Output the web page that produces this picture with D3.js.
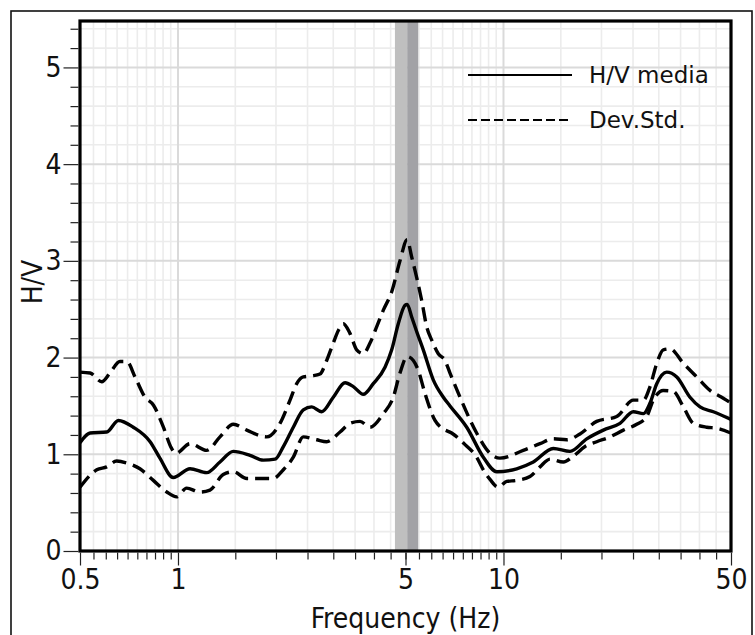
<!DOCTYPE html>
<html>
<head>
<meta charset="utf-8">
<script src="https://cdn.jsdelivr.net/npm/d3@7"></script>
<style>
  html, body { margin: 0; padding: 0; background: #fff; }
  svg { display: block; font-family: "DejaVu Sans", Verdana, sans-serif; }
  .cond { font-family: "DejaVu Sans Condensed", "DejaVu Sans", sans-serif; font-stretch: condensed; }
</style>
</head>
<body>
<svg id="chart" width="755" height="635"></svg>
<script>
// H/V spectral ratio: mean curve and ± standard deviation curves
const freqMean = [0.5, 0.537, 0.604, 0.656, 0.729, 0.821, 0.88, 0.967, 1.089, 1.225, 1.346, 1.479,
  1.664, 1.829, 1.987, 2.107, 2.261, 2.427, 2.575, 2.764, 3.0, 3.26, 3.457, 3.71, 3.981, 4.325,
  4.535, 4.752, 4.983, 5.06, 5.224, 5.41, 5.67, 6.085, 6.535, 6.85, 7.71, 8.67, 9.53, 10.98,
  12.35, 14.22, 16.01, 18.02, 20.27, 22.8, 25.05, 26.9, 28.2, 29.57, 31.73, 34.07, 37.41,
  40.16, 44.12, 50];
const hvMean = [1.12, 1.22, 1.23, 1.35, 1.28, 1.13, 0.96, 0.76, 0.85, 0.81, 0.92, 1.03,
  0.99, 0.94, 0.95, 1.08, 1.28, 1.46, 1.49, 1.44, 1.59, 1.74, 1.70, 1.62, 1.73, 1.90,
  2.08, 2.35, 2.54, 2.55, 2.42, 2.27, 2.08, 1.77, 1.59, 1.50, 1.28, 0.97, 0.82, 0.85,
  0.92, 1.06, 1.03, 1.16, 1.25, 1.32, 1.44, 1.42, 1.53, 1.73, 1.85, 1.80, 1.59,
  1.49, 1.44, 1.36];

const freqUpper = [0.5, 0.537, 0.583, 0.618, 0.663, 0.696, 0.738, 0.792, 0.84, 0.902, 0.956, 0.986,
  1.089, 1.225, 1.346, 1.479, 1.626, 1.873, 2.058, 2.209, 2.316, 2.427, 2.575, 2.731, 2.863,
  3.0, 3.109, 3.22, 3.376, 3.54, 3.71, 3.89, 4.079, 4.274, 4.535, 4.809, 5.06, 5.224, 5.41,
  5.607, 5.808, 6.019, 6.306, 6.614, 6.85, 7.353, 8.27, 9.09, 9.75, 11.5, 12.95, 14.22,
  15.64, 17.18, 19.34, 22.28, 25.05, 26.9, 28.2, 29.57, 30.97, 32.48, 35.7, 39.23, 43.11,
  47.35, 50];
const hvUpper = [1.85, 1.84, 1.75, 1.84, 1.96, 1.96, 1.80, 1.59, 1.51, 1.28, 1.06, 1.01,
  1.11, 1.04, 1.18, 1.31, 1.25, 1.18, 1.32, 1.56, 1.73, 1.80, 1.81, 1.83, 1.97,
  2.15, 2.28, 2.35, 2.25, 2.08, 2.04, 2.15, 2.32, 2.49, 2.68, 3.0, 3.22, 3.04, 2.83,
  2.59, 2.32, 2.18, 2.04, 1.97, 1.84, 1.59, 1.22, 1.01, 0.96, 1.04, 1.11, 1.16,
  1.15, 1.21, 1.34, 1.39, 1.56, 1.56, 1.70, 1.94, 2.08, 2.09, 1.94, 1.80, 1.66,
  1.58, 1.53];

const freqLower = [0.5, 0.563, 0.604, 0.648, 0.696, 0.764, 0.84, 0.924, 0.991, 1.063, 1.169, 1.254,
  1.377, 1.479, 1.626, 1.963, 2.107, 2.261, 2.427, 2.668, 2.863, 3.147, 3.376, 3.625, 3.89,
  4.274, 4.586, 4.809, 5.06, 5.284, 5.47, 5.739, 6.16, 6.47, 6.93, 7.62, 8.27, 8.67, 9.09,
  9.64, 10.23, 10.98, 12.06, 12.95, 13.9, 15.27, 16.39, 17.81, 19.34, 21.25, 23.35, 25.66,
  27.54, 28.86, 30.97, 33.23, 35.7, 38.3, 42.11, 45.2, 50];
const hvLower = [0.66, 0.84, 0.87, 0.93, 0.91, 0.85, 0.73, 0.61, 0.56, 0.65, 0.61, 0.63,
  0.79, 0.82, 0.75, 0.75, 0.84, 0.97, 1.18, 1.15, 1.13, 1.23, 1.32, 1.34, 1.28,
  1.42, 1.59, 1.84, 2.01, 1.97, 1.87, 1.63, 1.35, 1.27, 1.22, 1.10, 0.97, 0.84, 0.74,
  0.66, 0.72, 0.73, 0.77, 0.87, 0.95, 0.92, 0.98, 1.08, 1.13, 1.18, 1.25, 1.31,
  1.39, 1.56, 1.66, 1.65, 1.49, 1.32, 1.28, 1.27, 1.22];

// peak frequency and its ± uncertainty band
const peakFreq = 5.06;
const bandLow = 4.64;
const bandHigh = 5.47;

const xTickLabels = [0.5, 1, 5, 10, 50];
const yTickLabels = [0, 1, 2, 3, 4, 5];
const legendLabels = ["H/V media", "Dev.Std."];
const xTitle = "Frequency (Hz)";
const yTitle = "H/V";

const svg = d3.select("#chart");
const plotLeft = 80, plotRight = 731, plotTop = 21, plotBottom = 551;

const x = d3.scaleLog().domain([0.5, 50]).range([plotLeft, plotRight]);
const y = d3.scaleLinear().domain([0, 5.48]).range([plotBottom, plotTop]);

// outer frame
svg.append("rect")
  .attr("x", 11).attr("y", 11).attr("width", 741).attr("height", 640)
  .attr("fill", "none").attr("stroke", "#111").attr("stroke-width", 1.6);

// minor positions on the log axis
const minorX = [];
for (let v = 0.55; v < 0.999; v += 0.05) minorX.push(+v.toFixed(2));
for (let v = 1.5; v < 9.99; v += 0.5) minorX.push(+v.toFixed(1));
for (let v = 15; v < 49.9; v += 5) minorX.push(v);
const majorX = [1, 10];
const minorY = d3.range(0.2, 5.41, 0.2).map(v => +v.toFixed(1)).filter(v => Math.abs(v - Math.round(v)) > 1e-6);

const grid = svg.append("g");
grid.selectAll(".gx").data(minorX).join("line")
  .attr("x1", d => x(d)).attr("x2", d => x(d)).attr("y1", plotTop).attr("y2", plotBottom)
  .attr("stroke", "#ececec").attr("stroke-width", 1.6);
grid.selectAll(".gy").data(minorY).join("line")
  .attr("x1", plotLeft).attr("x2", plotRight).attr("y1", d => y(d)).attr("y2", d => y(d))
  .attr("stroke", "#ececec").attr("stroke-width", 1.6);
grid.selectAll(".gxM").data(majorX).join("line")
  .attr("x1", d => x(d)).attr("x2", d => x(d)).attr("y1", plotTop).attr("y2", plotBottom)
  .attr("stroke", "#dadada").attr("stroke-width", 2);
grid.selectAll(".gyM").data(yTickLabels.slice(1)).join("line")
  .attr("x1", plotLeft).attr("x2", plotRight).attr("y1", d => y(d)).attr("y2", d => y(d))
  .attr("stroke", "#dadada").attr("stroke-width", 2);

// uncertainty band around the peak
svg.append("rect")
  .attr("x", x(bandLow)).attr("y", plotTop)
  .attr("width", x(peakFreq) - x(bandLow)).attr("height", plotBottom - plotTop)
  .attr("fill", "#bfbfbf");
svg.append("rect")
  .attr("x", x(peakFreq)).attr("y", plotTop)
  .attr("width", x(bandHigh) - x(peakFreq)).attr("height", plotBottom - plotTop)
  .attr("fill", "#a2a2a6");

// curves
svg.append("clipPath").attr("id", "plotClip")
  .append("rect").attr("x", plotLeft).attr("y", plotTop)
  .attr("width", plotRight - plotLeft).attr("height", plotBottom - plotTop);

const line = d3.line().x(d => x(d[0])).y(d => y(d[1])).curve(d3.curveMonotoneX);
const curves = svg.append("g").attr("clip-path", "url(#plotClip)");
const series = [
  { f: freqUpper, v: hvUpper, dash: "14,7" },
  { f: freqLower, v: hvLower, dash: "14,7" },
  { f: freqMean, v: hvMean, dash: null }
];
series.forEach(s => {
  curves.append("path")
    .datum(d3.zip(s.f, s.v))
    .attr("d", line)
    .attr("fill", "none")
    .attr("stroke", "#000")
    .attr("stroke-width", 3.4)
    .attr("stroke-linejoin", "round")
    .attr("stroke-dasharray", s.dash);
});

// plot border
svg.append("rect")
  .attr("x", plotLeft).attr("y", plotTop)
  .attr("width", plotRight - plotLeft).attr("height", plotBottom - plotTop)
  .attr("fill", "none").attr("stroke", "#000").attr("stroke-width", 3.2);

// x axis ticks
const xAxis = svg.append("g").attr("transform", `translate(0,${plotBottom + 1.5})`);
xAxis.call(d3.axisBottom(x).tickValues(minorX).tickSize(7).tickFormat(""))
  .call(g => g.select(".domain").remove());
xAxis.selectAll("line").attr("stroke", "#222").attr("stroke-width", 1.2);
const xMajor = svg.append("g").attr("transform", `translate(0,${plotBottom + 1.5})`);
xMajor.call(d3.axisBottom(x).tickValues(xTickLabels).tickSize(13).tickPadding(3).tickFormat(d3.format("")))
  .call(g => g.select(".domain").remove());
xMajor.selectAll("line").attr("stroke", "#222").attr("stroke-width", 1.2);
xMajor.selectAll("text").attr("class", "cond").attr("font-size", 28).attr("fill", "#111")
  .attr("font-family", null).attr("dy", "0.72em");

// y axis ticks
const yAxis = svg.append("g").attr("transform", `translate(${plotLeft - 1.5},0)`);
yAxis.call(d3.axisLeft(y).tickValues(minorY).tickSize(8).tickFormat(""))
  .call(g => g.select(".domain").remove());
yAxis.selectAll("line").attr("stroke", "#222").attr("stroke-width", 1.2);
const yMajor = svg.append("g").attr("transform", `translate(${plotLeft - 1.5},0)`);
yMajor.call(d3.axisLeft(y).tickValues(yTickLabels).tickSize(15).tickPadding(2).tickFormat(d3.format("d")))
  .call(g => g.select(".domain").remove());
yMajor.selectAll("line").attr("stroke", "#222").attr("stroke-width", 1.2);
yMajor.selectAll("text").attr("class", "cond").attr("font-size", 28).attr("fill", "#111")
  .attr("font-family", null);

// axis titles
svg.append("text").attr("class", "cond")
  .attr("x", (plotLeft + plotRight) / 2).attr("y", 628)
  .attr("text-anchor", "middle").attr("font-size", 28).attr("fill", "#111")
  .text(xTitle);
svg.append("text").attr("class", "cond")
  .attr("transform", "translate(42,282) rotate(-90)")
  .attr("text-anchor", "middle").attr("font-size", 28).attr("fill", "#111")
  .text(yTitle);

// legend
const legend = svg.append("g");
const legendY = [75, 120];
legendLabels.forEach((lab, i) => {
  legend.append("line")
    .attr("x1", 468).attr("x2", 572).attr("y1", legendY[i]).attr("y2", legendY[i])
    .attr("stroke", "#000").attr("stroke-width", 2)
    .attr("stroke-dasharray", i === 1 ? "9,4" : null);
  legend.append("text")
    .attr("x", 589).attr("y", legendY[i] + 8)
    .attr("font-size", 23).attr("fill", "#111")
    .text(lab);
});
</script>
</body>
</html>
